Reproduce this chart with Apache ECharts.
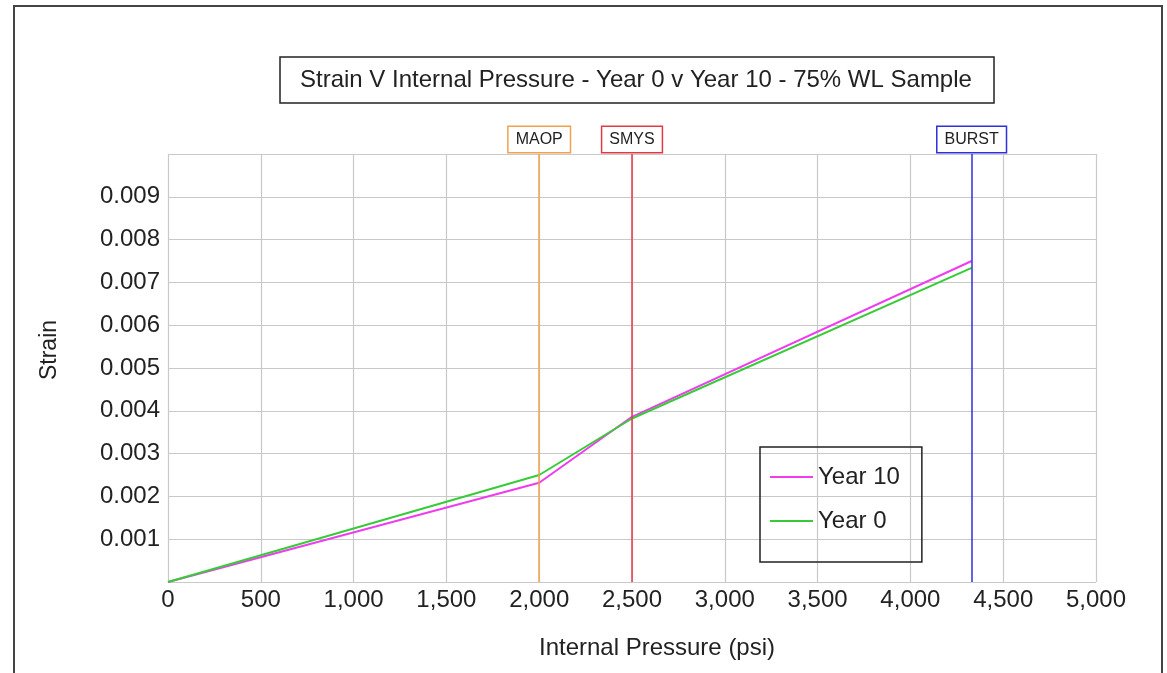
<!DOCTYPE html>
<html><head><meta charset="utf-8">
<script src="https://cdn.jsdelivr.net/npm/echarts@6/dist/echarts.min.js"></script>
<style>html,body{margin:0;padding:0;background:#fff}#c{width:1167px;height:673px}</style>
</head><body><div id="c"></div>
<script>
var pressure = [0, 2000, 2500, 4330];
var year10 = [0, 0.00232, 0.00386, 0.0075];
var year0 = [0, 0.00250, 0.00382, 0.00734];
var refNames = ['MAOP', 'SMYS', 'BURST'];
var refValues = [2000, 2500, 4330];
var refColors = ['#f2a24e', '#e23a44', '#2f2fdc'];
var xTicks = [0, 500, 1000, 1500, 2000, 2500, 3000, 3500, 4000, 4500, 5000];

var FONT = '"Liberation Sans", Arial, sans-serif';
function pairs(xs, ys){ return xs.map(function(x,i){ return [x, ys[i]]; }); }

var chart = echarts.init(document.getElementById('c'));
chart.setOption({
  animation: false,
  backgroundColor: '#fff',
  textStyle: { fontFamily: FONT },
  graphic: [{
    type: 'rect', shape: { x: 14, y: 6, width: 1148, height: 720 },
    style: { fill: 'none', stroke: '#444', lineWidth: 2 }, silent: true, z: 100
  }],
  title: {
    text: 'Strain V Internal Pressure - Year 0 v Year 10 - 75% WL Sample',
    left: 280, top: 57,
    padding: [11, 22, 11, 20],
    borderColor: '#222', borderWidth: 1.5,
    textStyle: { fontFamily: FONT, fontSize: 24, fontWeight: 'normal', color: '#222' }
  },
  legend: {
    orient: 'vertical', left: 760, top: 447,
    padding: [18, 22, 29, 10],
    borderColor: '#222', borderWidth: 1.5,
    itemWidth: 43, itemHeight: 2, itemGap: 20,
    icon: 'rect',
    data: ['Year 10', 'Year 0'],
    textStyle: { fontFamily: FONT, fontSize: 24, color: '#222' }
  },
  grid: { left: 168, right: 71, top: 154, bottom: 91 },
  xAxis: {
    type: 'value', min: 0, max: 5000, interval: 500,
    name: 'Internal Pressure (psi)', nameLocation: 'middle', nameGap: 54,
    nameTextStyle: { fontFamily: FONT, fontSize: 24, color: '#222', padding: [0, 0, 0, 50] },
    axisLine: { show: false }, axisTick: { show: false },
    axisLabel: { fontFamily: FONT, fontSize: 24, color: '#222', margin: 6,
      formatter: function(v){ return xTicks.indexOf(v) >= 0 ? v.toLocaleString('en-US') : ''; } },
    splitLine: { show: true, lineStyle: { color: '#c9c9c9', width: 1.2 } }
  },
  yAxis: {
    type: 'value', min: 0, max: 0.01, interval: 0.001,
    name: 'Strain', nameLocation: 'middle', nameGap: 107,
    nameTextStyle: { fontFamily: FONT, fontSize: 23, color: '#222', padding: [0, 0, 0, 36] },
    axisLine: { show: false }, axisTick: { show: false },
    axisLabel: { fontFamily: FONT, fontSize: 24, color: '#222', margin: 8,
      formatter: function(v){ var k = Math.round(v*1000); return (k > 0 && k < 10) ? (k/1000).toFixed(3) : ''; } },
    splitLine: { show: true, lineStyle: { color: '#c9c9c9', width: 1.2 } }
  },
  series: [
    { name: 'Year 10', type: 'line', data: pairs(pressure, year10), showSymbol: false,
      symbol: 'none', color: '#ee3cee', lineStyle: { width: 2, color: '#ee3cee' }, z: 3 },
    { name: 'Year 0', type: 'line', data: pairs(pressure, year0), showSymbol: false,
      symbol: 'none', color: '#37cc37', lineStyle: { width: 2, color: '#37cc37' }, z: 4,
      markLine: {
        silent: true, symbol: 'none', animation: false,
        data: refNames.map(function(n, i){
          return {
            name: n, xAxis: refValues[i],
            lineStyle: { color: refColors[i], width: 1.5, type: 'solid' },
            label: { show: true, position: 'end', formatter: '{b}', distance: 2,
              fontFamily: FONT, fontSize: 16, color: '#222',
              backgroundColor: '#fff', borderColor: refColors[i], borderWidth: 1.5,
              padding: [5, 7, 4, 7] }
          };
        })
      }
    }
  ]
});
</script></body></html>
